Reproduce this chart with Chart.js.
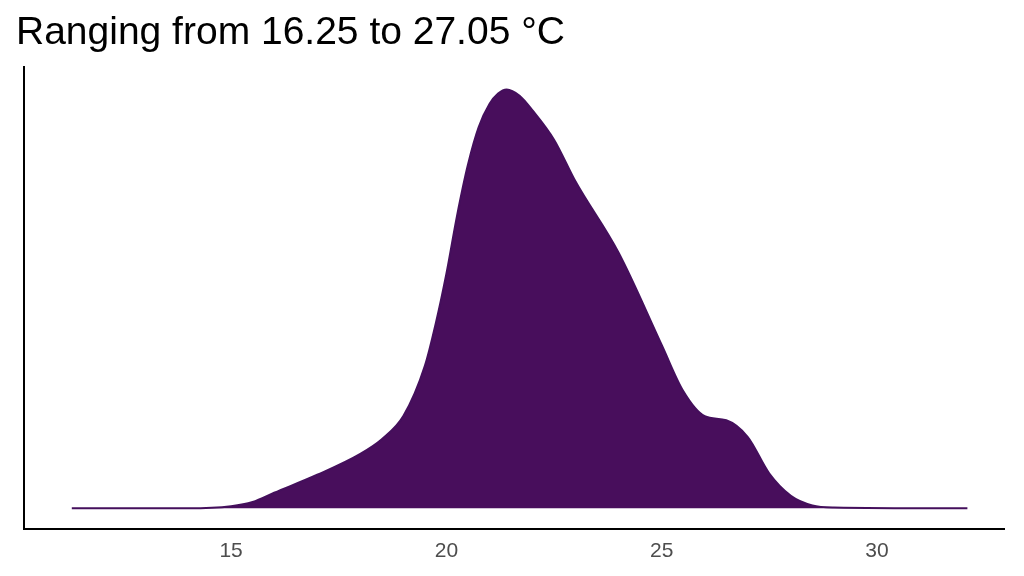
<!DOCTYPE html>
<html>
<head>
<meta charset="utf-8">
<script src="https://cdn.jsdelivr.net/npm/chart.js@4"></script>
<style>
html, body { margin: 0; padding: 0; background: #fff; }
#wrap { width: 1024px; height: 576px; }
</style>
</head>
<body>
<div id="wrap"><canvas id="densityChart"></canvas></div>
<script>
var temps = [11.3, 14, 15, 15.5, 16, 17, 18, 18.5, 19, 19.5, 19.75, 20, 20.25, 20.5, 20.75, 21, 21.2, 21.4, 21.7, 22, 22.5, 23, 24, 25, 25.5, 26, 26.5, 27, 27.5, 28, 28.5, 29, 32.1];
var density = [0, 0, 0.005, 0.015, 0.037, 0.08, 0.13, 0.165, 0.22, 0.34, 0.44, 0.56, 0.70, 0.82, 0.91, 0.965, 0.99, 1, 0.985, 0.95, 0.88, 0.78, 0.61, 0.39, 0.28, 0.22, 0.21, 0.17, 0.083, 0.03, 0.007, 0.002, 0];
var xTicks = [15, 20, 25, 30];

var points = temps.map(function (t, i) { return { x: t, y: density[i] }; });

new Chart("densityChart", {
    type: "line",
    data: {
        datasets: [{
            data: points,
            borderColor: "#440F5C",
            backgroundColor: "#480E5C",
            borderWidth: 2,
            fill: { value: 0 },
            pointRadius: 0,
            cubicInterpolationMode: "monotone"
        }]
    },
    options: {
        responsive: true,
        maintainAspectRatio: false,
        animation: false,
        layout: { padding: { left: 16, right: 20, top: 0, bottom: 8 } },
        plugins: {
            legend: { display: false },
            tooltip: { enabled: false },
            title: {
                display: true,
                text: "Ranging from 16.25 to 27.05 °C",
                align: "start",
                color: "#000",
                font: { family: "Liberation Sans, Arial", size: 39, weight: "normal" },
                padding: { top: 10, bottom: 10 }
            }
        },
        scales: {
            x: {
                type: "linear",
                min: 10.19,
                max: 32.95,
                afterBuildTicks: function (axis) {
                    axis.ticks = xTicks.map(function (v) { return { value: v }; });
                },
                ticks: {
                    color: "#4d4d4d",
                    font: { family: "Liberation Sans, Arial", size: 21 },
                    padding: 4
                },
                grid: { display: false, drawTicks: true, tickLength: 6, tickColor: "#333" },
                border: { color: "#000", width: 2 }
            },
            y: {
                min: -0.049,
                max: 1.054,
                ticks: { display: false },
                grid: { display: false },
                border: { color: "#000", width: 2 }
            }
        }
    }
});
</script>
</body>
</html>
